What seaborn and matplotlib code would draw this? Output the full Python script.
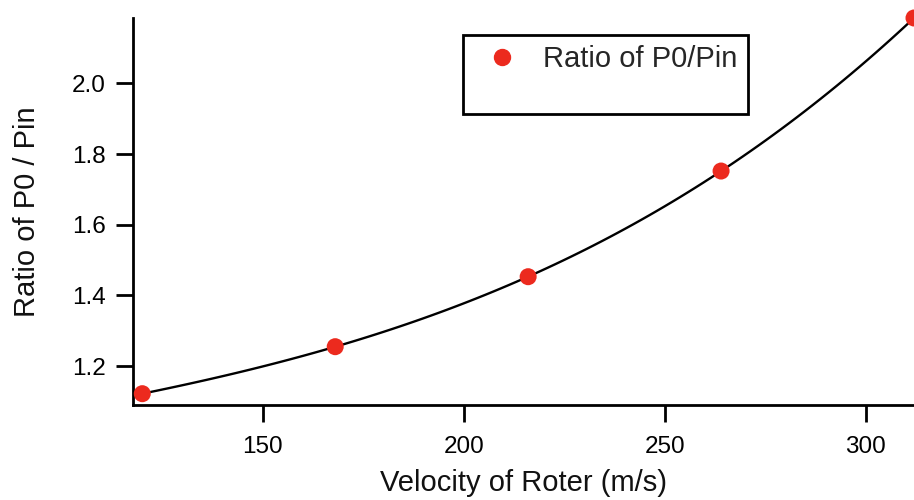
import matplotlib
matplotlib.use("Agg")
import matplotlib.pyplot as plt
import seaborn as sns
import pandas as pd
from matplotlib.lines import Line2D

velocity = [120, 168, 216, 264, 312]
ratio = [1.122, 1.255, 1.453, 1.752, 2.185]
x_ticks = [150, 200, 250, 300]
y_ticks = [1.2, 1.4, 1.6, 1.8, 2.0]

df = pd.DataFrame({"velocity": velocity, "ratio": ratio})

sns.set_theme(style="ticks")
plt.rcParams["font.family"] = ["Liberation Sans", "DejaVu Sans"]

fig = plt.figure(figsize=(9.14, 5.0), dpi=100)
ax = fig.add_axes([0.146, 0.19, 0.854, 0.774])

red = "#ec2a1e"
sns.regplot(data=df, x="velocity", y="ratio", order=3, ci=None, scatter=False,
            line_kws=dict(color="black", lw=1.7), ax=ax)
sns.scatterplot(data=df, x="velocity", y="ratio", color=red, s=150,
                edgecolor="none", ax=ax, clip_on=False, zorder=3)

ax.set_xlim(117.8, 312)
ax.set_ylim(1.09, 2.185)
ax.set_xticks(x_ticks)
ax.set_yticks(y_ticks)
ax.set_yticklabels([f"{v:.1f}" for v in y_ticks])

for s in ["top", "right"]:
    ax.spines[s].set_visible(False)
for s in ["left", "bottom"]:
    ax.spines[s].set_linewidth(2.0)
    ax.spines[s].set_color("black")
ax.tick_params(axis="both", direction="out", length=12, width=2.0,
               colors="black", labelsize=17.5)
ax.tick_params(axis="x", pad=10)
ax.tick_params(axis="y", pad=8)

ax.set_xlabel("Velocity of Roter (m/s)", fontsize=21, color="#111111", labelpad=8)
ax.set_ylabel("Ratio of P0 / Pin", fontsize=21, color="#111111", labelpad=22)

handles = [Line2D([], [], marker="o", color=red, ls="none", markersize=11.5),
           Line2D([], [], color="none")]
leg = ax.legend(handles, ["Ratio of P0/Pin", " "], loc="upper left",
                bbox_to_anchor=(0.422, 0.956), borderaxespad=0, fontsize=21,
                frameon=True, fancybox=False, edgecolor="black", framealpha=1,
                handlelength=2.0, handletextpad=0.41, borderpad=0.35,
                labelspacing=0.1)
leg.get_frame().set_linewidth(2.0)

fig.savefig("out.png", dpi=100)
